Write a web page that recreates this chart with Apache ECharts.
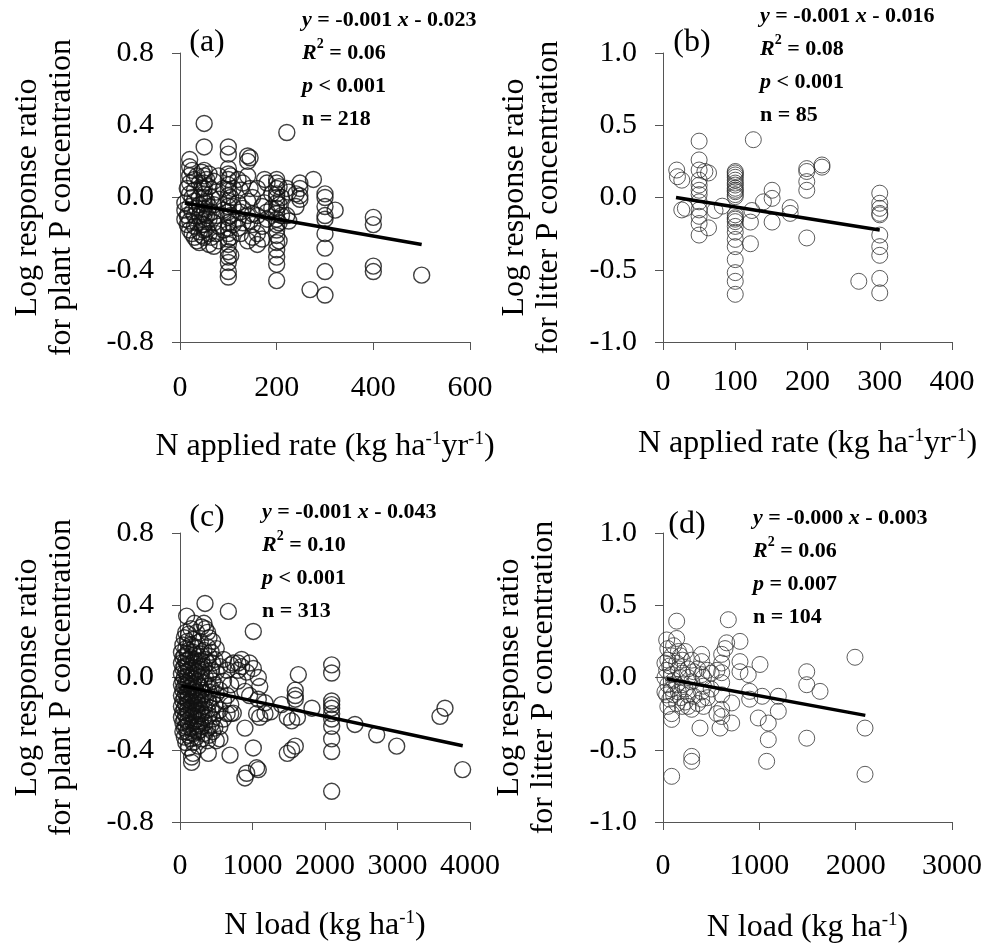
<!DOCTYPE html>
<html>
<head>
<meta charset="utf-8">
<script src="https://cdn.jsdelivr.net/npm/echarts@6.0.0/dist/echarts.min.js"></script>
<style>
  html, body { margin: 0; padding: 0; background: #fff; }
  #chart { width: 987px; height: 946px; }
</style>
</head>
<body>
<div id="chart"></div>
<script>
// ---- data: [x, [y values at that x]] ----
const ptsA = [
  [10, [-0.07, -0.03, -0.12]], [15, [0.05, -0.1, -0.15]],
  [20, [0.21, 0.17, 0.12, 0.08, 0.02, -0.05, -0.13, -0.18]], [25, [0.15, 0.0, -0.08, -0.2]],
  [30, [0.1, 0.04, -0.02, -0.1, -0.16, -0.22]], [35, [0.12, -0.06, -0.14, -0.24]],
  [40, [0.08, 0.0, -0.04, -0.1, -0.19, -0.25]], [45, [0.14, 0.05, -0.08, -0.15, -0.21]],
  [50, [0.41, 0.28, 0.15, 0.12, 0.08, 0.05, 0.02, 0.0, -0.03, -0.06, -0.09, -0.12, -0.15, -0.18, -0.22]],
  [55, [0.1, -0.02, -0.1, -0.17]], [60, [0.13, 0.06, -0.05, -0.12, -0.2, -0.26]],
  [65, [0.0, -0.08, -0.22]], [70, [0.09, -0.04, -0.14, -0.27]], [75, [0.03, -0.1, -0.2]],
  [80, [0.12, -0.01, -0.16, -0.24]], [90, [0.05, -0.07, -0.18]],
  [100, [0.28, 0.24, 0.16, 0.13, 0.1, 0.07, 0.04, 0.01, -0.02, -0.05, -0.08, -0.11, -0.14, -0.17, -0.2, -0.23, -0.26, -0.3, -0.33, -0.36, -0.41, -0.44]],
  [105, [0.12, 0.0, -0.1, -0.22, -0.32]], [110, [0.05, -0.05, -0.15]],
  [120, [0.1, -0.03, -0.12, -0.17]], [125, [0.04, -0.08, -0.2]], [130, [0.08, -0.06, -0.14]],
  [140, [0.23, 0.2, 0.12, -0.02, -0.1, -0.24]], [145, [0.22, 0.05, -0.13]],
  [150, [0.0, -0.09, -0.15, -0.22]], [160, [0.05, -0.1, -0.2, -0.26]], [170, [-0.05, -0.16, -0.23]],
  [175, [0.1, -0.03]], [180, [0.08, -0.08, -0.12]], [190, [0.02, -0.06]],
  [200, [0.1, 0.08, 0.05, 0.02, 0.0, -0.03, -0.06, -0.09, -0.12, -0.15, -0.18, -0.21, -0.25, -0.29, -0.33, -0.37, -0.46]],
  [205, [0.06, -0.04, -0.14, -0.24]], [210, [0.0, -0.1]], [221, [0.36, 0.05, -0.1]],
  [225, [0.03, -0.13]], [240, [0.02, -0.05]], [248, [0.08, 0.05, 0.01, -0.01]],
  [269, [-0.51]], [276, [0.1]],
  [300, [0.02, 0.0, -0.05, -0.1, -0.12, -0.2, -0.28, -0.41, -0.54]],
  [321, [-0.07]], [400, [-0.11, -0.15, -0.38, -0.41]], [500, [-0.43]]
];
const ptsB = [
  [19, [0.19]], [20, [0.144]], [26, [0.12, -0.086]], [31, [-0.075]],
  [50, [0.39, 0.26, 0.19, 0.12, 0.086, 0.05, 0.02, -0.03, -0.086, -0.13, -0.18, -0.26]],
  [58, [0.18]], [63, [0.17, -0.21]], [72, [-0.09]], [82, [-0.06]],
  [100, [0.18, 0.17, 0.156, 0.14, 0.12, 0.1, 0.086, 0.064, 0.05, 0.04, 0.02, 0.006, -0.12, -0.14, -0.15, -0.167, -0.2, -0.24, -0.29, -0.34, -0.43, -0.52, -0.58, -0.67]],
  [121, [-0.17, -0.32]], [123, [-0.09]], [125, [0.4]], [139, [-0.03]],
  [151, [0.05, -0.006, -0.17]], [176, [-0.11, -0.07]],
  [199, [0.2, 0.18, 0.11, 0.05, -0.28]], [220, [0.225, 0.21]], [271, [-0.58]],
  [300, [0.03, -0.04, -0.075, -0.11, -0.12, -0.26, -0.34, -0.4, -0.56, -0.66]]
];
const ptsC = [
  [20, [0.14, 0.08, 0.02, -0.04, -0.1, -0.16, -0.22]],
  [40, [0.18, 0.11, 0.05, -0.02, -0.07, -0.13, -0.19, -0.25, -0.3]],
  [60, [0.22, 0.12, 0.06, 0.0, -0.05, -0.11, -0.17, -0.23, -0.28, -0.33]],
  [80, [0.25, 0.16, 0.09, 0.03, -0.03, -0.09, -0.15, -0.21, -0.27, -0.36]],
  [92, [0.34]],
  [100, [0.2, 0.13, 0.07, 0.01, -0.04, -0.08, -0.12, -0.18, -0.24, -0.3]],
  [120, [0.24, 0.15, 0.1, 0.04, -0.02, -0.06, -0.1, -0.14, -0.2, -0.26, -0.32, -0.39]],
  [150, [0.27, 0.18, 0.11, 0.05, 0.0, -0.05, -0.09, -0.13, -0.17, -0.22, -0.28, -0.34]],
  [160, [-0.44, -0.47]],
  [180, [0.21, 0.14, 0.08, 0.02, -0.03, -0.07, -0.11, -0.16, -0.21, -0.25, -0.31, -0.36, -0.42]],
  [200, [0.3, 0.17, 0.1, 0.04, -0.01, -0.06, -0.1, -0.14, -0.19, -0.24, -0.29]],
  [230, [0.25, 0.16, 0.09, 0.03, -0.02, -0.08, -0.13, -0.18, -0.23, -0.27, -0.33]],
  [250, [0.12, 0.05, -0.04, -0.1, -0.15, -0.2, -0.26, -0.3, -0.38]],
  [280, [0.2, 0.13, 0.06, 0.0, -0.05, -0.12, -0.18, -0.24, -0.29]],
  [300, [0.28, 0.09, 0.03, -0.07, -0.14, -0.2, -0.27, -0.34]],
  [330, [0.3, 0.15, 0.06, -0.03, -0.09, -0.16, -0.22, -0.31]],
  [345, [0.41]], [350, [0.27, 0.1, 0.0, -0.12, -0.25]],
  [380, [0.25, 0.17, 0.08, -0.05, -0.18, -0.28, -0.35]], [391, [-0.42]],
  [400, [0.22, 0.12, 0.02, -0.08, -0.14, -0.21, -0.32]],
  [430, [0.14, 0.04, -0.06, -0.17, -0.26]], [450, [0.2, 0.08, -0.02, -0.11, -0.23, -0.3]],
  [480, [0.1, -0.04, -0.15, -0.28]], [500, [0.16, 0.03, -0.09, -0.2, -0.35]],
  [550, [0.06, -0.07, -0.18, -0.27, -0.34]], [600, [0.1, -0.02, -0.13, -0.23]],
  [650, [0.04, -0.1, -0.2]], [667, [0.366]], [690, [-0.43]],
  [700, [0.07, -0.04, -0.15, -0.2]], [735, [0.08, -0.197]],
  [800, [0.08, 0.04, -0.02]], [850, [0.1, 0.06]],
  [896, [-0.077, -0.28, -0.556]], [920, [0.03, -0.53]], [960, [0.08, -0.1]],
  [1011, [0.255, 0.05, -0.39]], [1057, [-0.2, -0.5]], [1080, [0.0, -0.12, -0.51]],
  [1100, [-0.05, -0.22]], [1172, [-0.2, -0.14]], [1250, [-0.19]], [1400, [-0.15]],
  [1480, [-0.22, -0.42]], [1540, [-0.24, -0.4]], [1590, [-0.07, -0.1, -0.12, -0.38]],
  [1620, [-0.22]], [1632, [0.016]], [1820, [-0.17]],
  [2092, [0.07, 0.025, -0.13, -0.15, -0.17, -0.2, -0.23, -0.27, -0.34, -0.41, -0.63]],
  [2413, [-0.26]], [2713, [-0.317]], [2989, [-0.38]],
  [3586, [-0.215]], [3655, [-0.17]], [3898, [-0.51]]
];
const ptsD = [
  [20, [0.1, 0.0, -0.1]], [38, [0.26, 0.05, -0.12]], [50, [0.2, 0.12, -0.05, -0.2]],
  [70, [0.08, -0.15]], [90, [0.15, 0.02, -0.08, -0.25, -0.29, -0.684]],
  [110, [0.22, -0.02, -0.12]], [142, [0.39, 0.27, 0.1, -0.05, -0.18]],
  [160, [0.18, 0.06, -0.1]], [180, [0.15, 0.0, -0.14]], [200, [0.12, 0.03, -0.05, -0.2]],
  [230, [0.18, -0.08, -0.17]], [260, [0.06, 0.0, -0.12, -0.2]],
  [298, [0.12, -0.03, -0.22, -0.546, -0.58]], [320, [0.04, -0.13]], [360, [0.06, -0.18]],
  [384, [-0.35]], [401, [0.16, 0.11, 0.02, -0.1, -0.15]], [420, [0.0, -0.06, -0.2]],
  [460, [0.05, -0.14]], [500, [0.03, -0.08]], [560, [0.05, -0.25]], [592, [-0.35]],
  [609, [0.16, 0.1, 0.033, -0.036, -0.12, -0.22, -0.27]], [644, [0.2]], [661, [0.24]],
  [678, [0.4]], [713, [-0.176, -0.315]], [799, [0.25, 0.11, 0.04]], [885, [0.02]],
  [900, [-0.096, -0.15]], [989, [-0.28]], [1007, [0.09]], [1030, [-0.13]],
  [1076, [-0.58]], [1093, [-0.43, -0.315]], [1197, [-0.13, -0.234]],
  [1492, [0.04, -0.05, -0.42]], [1630, [-0.096]], [1993, [0.14]], [2097, [-0.35, -0.67]]
];
// regression line end points
const fitA = [[10, -0.03], [500, -0.26]];
const fitB = [[18, 0.0], [300, -0.225]];
const fitC = [[20, -0.045], [3900, -0.378]];
const fitD = [[38, -0.008], [2100, -0.262]];

const xMax = [600, 400, 4000, 3000];
const xStep = [200, 100, 1000, 1000];
const yMax = [0.8, 1.0, 0.8, 1.0];
const yStep = [0.4, 0.5, 0.4, 0.5];

const xNames = [
  'N applied rate (kg ha{s|-1}yr{s|-1})',
  'N applied rate (kg ha{s|-1}yr{s|-1})',
  'N load (kg ha{s|-1})',
  'N load (kg ha{s|-1})'
];
const yNames = [
  'Log response ratio\nfor plant P concentration',
  'Log response ratio\nfor litter P concentration',
  'Log response ratio\nfor plant P concentration',
  'Log response ratio\nfor litter P concentration'
];
const panelTags = ['(a)', '(b)', '(c)', '(d)'];
const stats = [
  ['-0.001', '- 0.023', '= 0.06', '< 0.001', 'n = 218'],
  ['-0.001', '- 0.016', '= 0.08', '< 0.001', 'n = 85'],
  ['-0.001', '- 0.043', '= 0.10', '< 0.001', 'n = 313'],
  ['-0.000', '- 0.003', '= 0.06', '= 0.007', 'n = 104']
];

const FONT = '"Liberation Serif", "Times New Roman", serif';
const chart = echarts.init(document.getElementById('chart'));

const flat = cols => {
  const out = [];
  cols.forEach(([x, ys]) => ys.forEach(y => out.push([x, y])));
  return out;
};

// layout
const grids = [
  { left: 180, top: 53, width: 290, height: 289 },
  { left: 663, top: 53, width: 289, height: 289 },
  { left: 180, top: 533, width: 290, height: 289 },
  { left: 663, top: 533, width: 289, height: 289 }
];
const xLabelMargin = [31, 25, 29, 29];
const xNameGap = [88, 85, 87, 89];
const yNameGap = [101, 97, 101, 102];
const tagPos = [[207, 43], [692, 43], [207, 518], [687, 525]];
const statPos = [[302, 4], [760, 0], [262, 496], [753, 502]];

const axisStyle = {
  axisLine: { show: true, onZero: false, lineStyle: { color: '#555', width: 1 } },
  axisTick: { show: true, inside: false, length: 8, lineStyle: { color: '#555', width: 1 } },
  splitLine: { show: false }
};

const xAxis = grids.map((g, i) => Object.assign({
  type: 'value', gridIndex: i, min: 0, max: xMax[i], interval: xStep[i],
  name: xNames[i], nameLocation: 'middle', nameGap: xNameGap[i],
  nameTextStyle: {
    fontFamily: FONT, fontSize: 32, color: '#000', lineHeight: 34,
    rich: { s: { fontFamily: FONT, fontSize: 19, color: '#000', verticalAlign: 'top', lineHeight: 22 } }
  },
  axisLabel: {
    fontFamily: FONT, fontSize: 30, color: '#000', margin: xLabelMargin[i], lineHeight: 30,
    formatter: v => String(v)
  }
}, axisStyle));

const yAxis = grids.map((g, i) => Object.assign({
  type: 'value', gridIndex: i, min: -yMax[i], max: yMax[i], interval: yStep[i],
  name: yNames[i], nameLocation: 'middle', nameGap: yNameGap[i], nameRotate: 90,
  nameTextStyle: { fontFamily: FONT, fontSize: 32, color: '#000', lineHeight: 34 },
  axisLabel: {
    fontFamily: FONT, fontSize: 30, color: '#000', margin: 26,
    formatter: v => v.toFixed(1)
  }
}, axisStyle));

const pts = [ptsA, ptsB, ptsC, ptsD];
const fits = [fitA, fitB, fitC, fitD];
const series = [];
pts.forEach((p, i) => {
  const heavy = i === 0 || i === 2;
  series.push({
    type: 'scatter', xAxisIndex: i, yAxisIndex: i,
    data: flat(p), symbol: 'circle', symbolSize: 16, silent: true,
    itemStyle: {
      color: 'rgba(0,0,0,0)',
      borderColor: heavy ? '#111' : '#333',
      borderWidth: heavy ? 1.4 : 1
    }
  });
  series.push({
    type: 'line', xAxisIndex: i, yAxisIndex: i, data: fits[i],
    symbol: 'none', silent: true, z: 5,
    lineStyle: { color: '#000', width: 3.5 }
  });
});

// stats block: bold, italic symbols, superscript 2
const statRich = {
  i: { fontFamily: FONT, fontSize: 22, fontWeight: 'bold', fontStyle: 'italic', fill: '#000', lineHeight: 33 },
  b: { fontFamily: FONT, fontSize: 22, fontWeight: 'bold', fill: '#000', lineHeight: 33 },
  s: { fontFamily: FONT, fontSize: 14, fontWeight: 'bold', fill: '#000', verticalAlign: 'top', lineHeight: 18 }
};

const graphic = [];
panelTags.forEach((t, i) => {
  graphic.push({
    type: 'text', silent: true,
    style: {
      text: t, x: tagPos[i][0], y: tagPos[i][1],
      align: 'center', verticalAlign: 'middle',
      font: '32px ' + FONT, fill: '#000'
    }
  });
  const s = stats[i];
  graphic.push({
    type: 'text', silent: true,
    style: {
      text: '{i|y}{b| = ' + s[0] + ' }{i|x}{b| ' + s[1] + '}\n' +
            '{i|R}{s|2}{b| ' + s[2] + '}\n' +
            '{i|p}{b| ' + s[3] + '}\n' +
            '{b|' + s[4] + '}',
      x: statPos[i][0], y: statPos[i][1],
      align: 'left', verticalAlign: 'top',
      font: 'bold 22px ' + FONT, fill: '#000',
      rich: statRich
    }
  });
});

chart.setOption({
  animation: false,
  backgroundColor: '#fff',
  grid: grids,
  xAxis: xAxis,
  yAxis: yAxis,
  series: series,
  graphic: graphic
});
</script>
</body>
</html>
